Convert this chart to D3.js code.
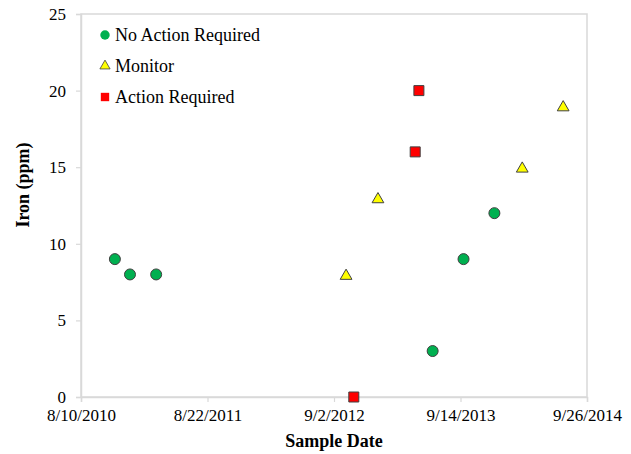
<!DOCTYPE html>
<html>
<head>
<meta charset="utf-8">
<script src="https://cdn.jsdelivr.net/npm/d3@7"></script>
<style>
  body { margin: 0; background: #fff; }
</style>
</head>
<body>
<div id="chart"></div>
<script>
// Sample dates and iron readings, grouped by status
const noActionDates = ["2010-11-19", "2011-01-03", "2011-03-22", "2013-06-23", "2013-09-23", "2013-12-24"];
const noActionValues = [9, 8, 8, 3, 9, 12];

const monitorDates = ["2012-10-08", "2013-01-11", "2014-03-17", "2014-07-17"];
const monitorValues = [8, 13, 15, 19];

const actionDates = ["2012-10-31", "2013-05-02", "2013-05-13"];
const actionValues = [0, 16, 20];

const xTickLabels = ["8/10/2010", "8/22/2011", "9/2/2012", "9/14/2013", "9/26/2014"];
const yTicks = [0, 5, 10, 15, 20, 25];

const parseDate = d3.utcParse("%Y-%m-%d");
const parseTick = d3.utcParse("%m/%d/%Y");

const FONT = "'Liberation Serif', 'Times New Roman', serif";

const series = [
    { name: "No Action Required", shape: d3.symbolCircle, size: 95, color: "#00b050", dates: noActionDates, values: noActionValues },
    { name: "Monitor", shape: d3.symbolTriangle, size: 60, color: "#ffff00", dates: monitorDates, values: monitorValues },
    { name: "Action Required", shape: d3.symbolSquare, size: 100, color: "#ff0000", dates: actionDates, values: actionValues }
];

const W = 631, H = 454;
const margin = { top: 14, right: 44, bottom: 57, left: 81 };
const width = W - margin.left - margin.right;
const height = H - margin.top - margin.bottom;

const svg = d3.select("#chart").append("svg")
    .attr("width", W)
    .attr("height", H)
    .style("font-family", FONT);

const g = svg.append("g")
    .attr("transform", `translate(${margin.left},${margin.top})`);

const tickDates = xTickLabels.map(parseTick);
const x = d3.scaleUtc()
    .domain([tickDates[0], tickDates[tickDates.length - 1]])
    .range([0, width]);

const y = d3.scaleLinear()
    .domain([0, 25])
    .range([height, 0]);

// plot frame (top and right)
g.append("rect")
    .attr("width", width)
    .attr("height", height)
    .attr("fill", "none")
    .attr("stroke", "#d9d9d9")
    .attr("stroke-width", 1.5);

const xAxis = g.append("g")
    .attr("transform", `translate(0,${height})`)
    .call(d3.axisBottom(x).tickValues(tickDates).tickSize(5).tickPadding(7)
        .tickFormat((d, i) => xTickLabels[i]));

const yAxis = g.append("g")
    .call(d3.axisLeft(y).tickValues(yTicks).tickSize(5).tickPadding(10));

[xAxis, yAxis].forEach(a => {
    a.attr("font-family", null).attr("font-size", null);
    a.select(".domain").attr("stroke", "#d9d9d9").attr("stroke-width", 1.5);
    a.selectAll(".tick line").attr("stroke", "#d9d9d9").attr("stroke-width", 1.2);
    a.selectAll(".tick text")
        .style("font-family", FONT)
        .style("font-size", "17px")
        .attr("fill", "#000");
});

// markers
series.forEach(s => {
    const pts = s.dates.map((d, i) => ({ date: parseDate(d), value: s.values[i] }));
    g.selectAll(null)
        .data(pts)
        .enter().append("path")
        .attr("d", d3.symbol().type(s.shape).size(s.size))
        .attr("transform", d => `translate(${x(d.date)},${y(d.value) + (s.shape === d3.symbolTriangle ? 1.5 : 0)})`)
        .attr("fill", s.color)
        .attr("stroke", "#404040")
        .attr("stroke-width", 1);
});

// axis titles
svg.append("text")
    .attr("x", margin.left + width / 2)
    .attr("y", 447)
    .attr("text-anchor", "middle")
    .style("font-family", FONT)
    .style("font-size", "18px")
    .style("font-weight", "bold")
    .text("Sample Date");

svg.append("text")
    .attr("transform", "translate(29,185) rotate(-90)")
    .attr("text-anchor", "middle")
    .style("font-family", FONT)
    .style("font-size", "18px")
    .style("font-weight", "bold")
    .text("Iron (ppm)");

// legend
const legend = svg.append("g").attr("transform", "translate(105,35)");
series.forEach((s, i) => {
    const row = legend.append("g").attr("transform", `translate(0,${i * 31})`);
    row.append("path")
        .attr("d", d3.symbol().type(s.shape).size(s.shape === d3.symbolTriangle ? 45 : 70))
        .attr("fill", s.color)
        .attr("stroke", s.shape === d3.symbolTriangle ? "#404040" : "none")
        .attr("stroke-width", 0.8);
    row.append("text")
        .attr("x", 10)
        .attr("y", 6)
        .style("font-family", FONT)
        .style("font-size", "18px")
        .text(s.name);
});
</script>
</body>
</html>
